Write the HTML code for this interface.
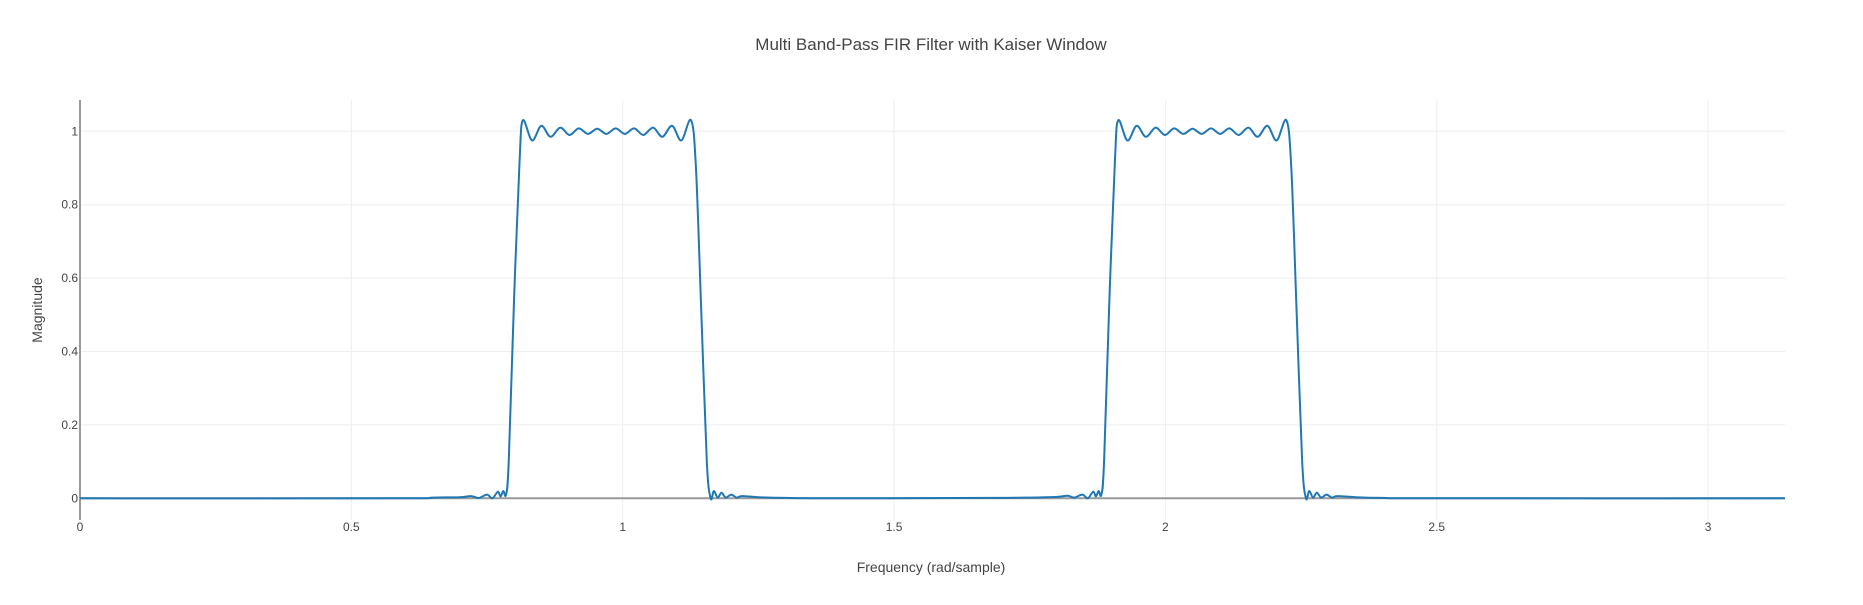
<!DOCTYPE html>
<html><head><meta charset="utf-8"><style>
body{margin:0;background:#fff;}
svg text{font-family:"Liberation Sans",Arial,sans-serif;fill:#444;}
</style></head><body>
<svg id="chart" width="1863" height="600" xmlns="http://www.w3.org/2000/svg">
<text x="931" y="50" font-size="17" text-anchor="middle">Multi Band-Pass FIR Filter with Kaiser Window</text>
<g id="grid"></g>
<g id="ticks"></g>
<line x1="80" y1="100" x2="80" y2="520" stroke="#9a9a9a" stroke-width="2"/>
<line x1="80" y1="498.3" x2="1785" y2="498.3" stroke="#9a9a9a" stroke-width="2"/>
<path id="line" fill="none" stroke="#1f77b4" stroke-width="2"/>
<text x="931" y="572" font-size="14" text-anchor="middle">Frequency (rad/sample)</text>
<text x="42" y="310" font-size="14" text-anchor="middle" transform="rotate(-90 42 310)">Magnitude</text>
</svg>
<script>
const xTicks=[0,0.5,1,1.5,2,2.5,3];
const xTickLabels=["0","0.5","1","1.5","2","2.5","3"];
const yTicks=[0,0.2,0.4,0.6,0.8,1];
const yTickLabels=["0","0.2","0.4","0.6","0.8","1"];
const freq=[0,0.58,0.65,0.70,0.72,0.735,0.75,0.76,0.77,0.775,0.78,0.785,0.79,0.80,0.81,0.816,0.833,0.850,0.867,0.885,0.902,0.919,0.936,0.953,0.970,0.987,1.004,1.021,1.038,1.056,1.073,1.091,1.108,1.126,1.135,1.145,1.155,1.162,1.168,1.175,1.182,1.19,1.2,1.21,1.22,1.25,1.3,1.4,
1.68,1.75,1.80,1.82,1.832,1.847,1.857,1.867,1.872,1.877,1.882,1.887,1.897,1.907,1.913,1.930,1.947,1.964,1.982,1.999,2.016,2.033,2.050,2.067,2.084,2.101,2.118,2.135,2.153,2.170,2.188,2.205,2.223,2.232,2.242,2.252,2.259,2.265,2.272,2.279,2.287,2.297,2.307,2.317,2.35,2.4,2.5,3.1416];
const mag=[0,0,0.002,0.003,0.006,0.001,0.01,0,0.018,0.005,0.02,0.01,0.1,0.55,0.92,1.03,0.975,1.015,0.985,1.01,0.99,1.008,0.993,1.007,0.993,1.008,0.993,1.008,0.99,1.01,0.985,1.015,0.975,1.03,0.9,0.5,0.1,0,0.02,0.002,0.015,0.002,0.01,0.002,0.006,0.003,0.001,0,
0.001,0.002,0.004,0.007,0.002,0.01,0,0.018,0.005,0.02,0.01,0.1,0.55,0.92,1.03,0.975,1.015,0.985,1.01,0.99,1.008,0.993,1.007,0.993,1.008,0.993,1.008,0.99,1.01,0.985,1.015,0.975,1.03,0.9,0.5,0.1,0,0.02,0.002,0.015,0.002,0.01,0.002,0.006,0.003,0.001,0,0];
const X=v=>80+v*542.7, Y=v=>498.3-v*367;
const ns="http://www.w3.org/2000/svg";
const grid=document.getElementById('grid'), ticks=document.getElementById('ticks');
xTicks.forEach((t,i)=>{
  if(t>0){const l=document.createElementNS(ns,'line');
  
  
  l.setAttribute('x1',X(t));l.setAttribute('x2',X(t));l.setAttribute('y1',100);l.setAttribute('y2',520);
  l.setAttribute('stroke','#eee');grid.appendChild(l);}
  const tx=document.createElementNS(ns,'text');
  
  
  tx.setAttribute('x',X(t));tx.setAttribute('y',531);tx.setAttribute('font-size','12');tx.setAttribute('text-anchor','middle');
  tx.textContent=xTickLabels[i];ticks.appendChild(tx);
});
yTicks.forEach((t,i)=>{
  if(t>0){const l=document.createElementNS(ns,'line');
  
  
  l.setAttribute('x1',80);l.setAttribute('x2',1785);l.setAttribute('y1',Y(t));l.setAttribute('y2',Y(t));
  l.setAttribute('stroke','#eee');grid.appendChild(l);}
  const tx=document.createElementNS(ns,'text');
  
  
  tx.setAttribute('x',78);tx.setAttribute('y',Y(t)+4);tx.setAttribute('font-size','12');tx.setAttribute('text-anchor','end');
  tx.textContent=yTickLabels[i];ticks.appendChild(tx);
});
const P=freq.map((f,i)=>[X(f),Y(mag[i])]);
let d='M'+P[0][0]+','+P[0][1];
for(let i=0;i<P.length-1;i++){
  const p0=P[Math.max(0,i-1)],p1=P[i],p2=P[i+1],p3=P[Math.min(P.length-1,i+2)];
  const c1=[p1[0]+(p2[0]-p0[0])/6,p1[1]+(p2[1]-p0[1])/6];
  const c2=[p2[0]-(p3[0]-p1[0])/6,p2[1]-(p3[1]-p1[1])/6];
  d+=`C${c1[0]},${c1[1]} ${c2[0]},${c2[1]} ${p2[0]},${p2[1]}`;
}
document.getElementById('line').setAttribute('d',d);
</script>
</body></html>
